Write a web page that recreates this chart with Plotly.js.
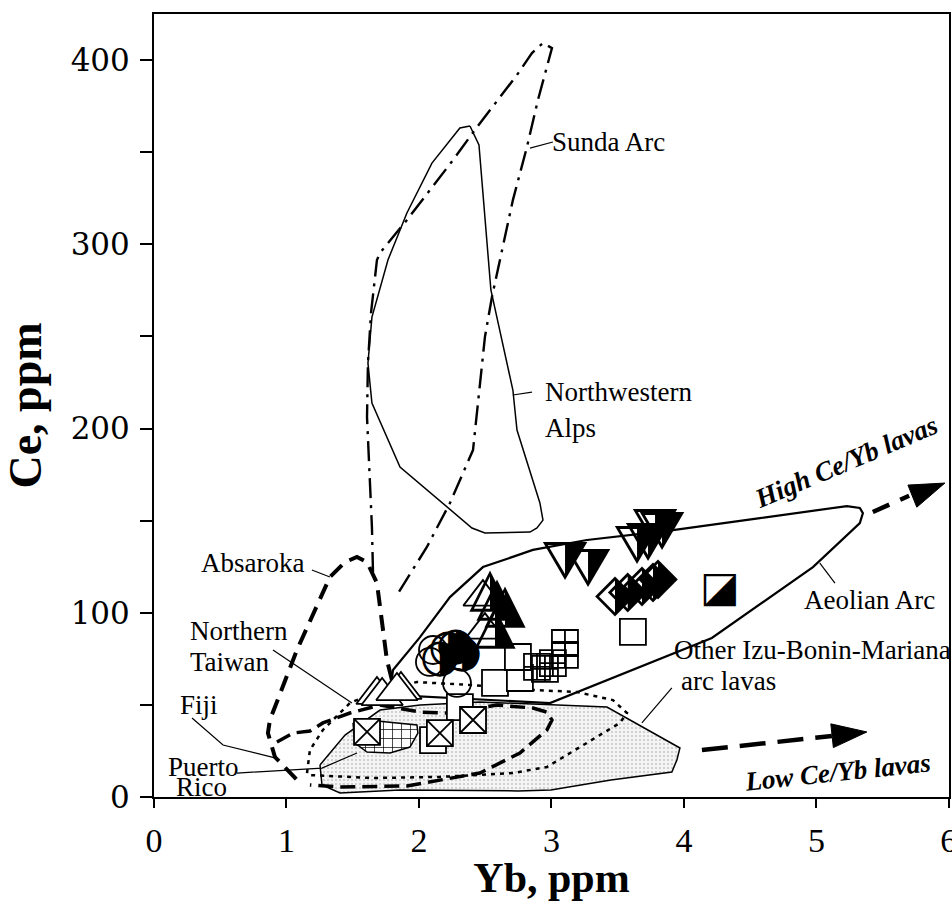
<!DOCTYPE html>
<html>
<head>
<meta charset="utf-8">
<script src="https://cdn.plot.ly/plotly-3.0.1.min.js"></script>
<style>
  html, body { margin: 0; padding: 0; background: #fff; }
  #chart { width: 952px; height: 901px; }
</style>
</head>
<body>
<div id="chart"></div>
<script>
// ---- Field outlines (Yb ppm, Ce ppm) ----
const alpsX = [2.385, 2.453, 2.543, 2.709, 2.740, 2.913, 2.936, 2.891, 2.838, 2.498, 2.400, 1.857, 1.645, 1.615, 1.645, 1.766, 1.909, 2.098, 2.309, 2.385];
const alpsY = [364.2, 353.9, 275.2, 220.9, 199.2, 159.6, 150.3, 146.0, 143.8, 143.3, 146.0, 179.1, 213.8, 235.5, 260.5, 291.5, 317.0, 344.1, 363.1, 364.2];

const sundaX = [1.653, 1.645, 1.608, 1.615, 1.638, 1.683, 1.706, 1.909, 2.257, 2.438, 2.740, 2.853, 2.936, 3.004, 2.898, 2.815, 2.709, 2.611, 2.551, 2.498, 2.460, 2.408, 2.234, 2.060, 1.834];
const sundaY = [122.1, 146.5, 206.2, 235.5, 262.7, 291.5, 295.3, 313.2, 345.7, 363.6, 391.9, 403.8, 409.2, 406.5, 378.3, 352.8, 324.0, 291.5, 271.4, 249.7, 224.7, 188.3, 159.6, 135.7, 109.6];

const aeolianX = [1.781, 1.804, 2.008, 2.234, 2.483, 2.860, 3.268, 3.917, 4.574, 5.230, 5.328, 5.351, 5.328, 4.974, 4.211, 2.989, 1.781];
const aeolianY = [55.4, 68.9, 86.8, 108.5, 124.8, 134.1, 139.5, 144.9, 151.4, 157.9, 156.9, 154.1, 148.7, 124.8, 86.3, 51.0, 55.4];

const ibmX = [1.253, 1.442, 1.706, 2.008, 2.460, 3.419, 3.970, 3.947, 3.909, 3.449, 2.996, 2.747, 1.857, 1.404, 1.268, 1.253];
const ibmY = [17.4, 33.6, 47.2, 49.9, 51.6, 48.8, 26.6, 20.1, 13.6, 9.2, 3.8, 3.3, 3.8, 2.2, 6.5, 17.4];

const absarokaX = [1.796, 1.758, 1.683, 1.608, 1.532, 1.442, 1.328, 1.079, 0.875, 0.860, 0.913, 1.102];
const absarokaY = [63.5, 74.4, 116.1, 127.5, 130.3, 127.5, 119.4, 79.8, 41.8, 34.7, 21.7, 7.6];

const fijiX = [0.928, 1.049, 1.177, 1.275, 1.479, 1.706, 2.008, 2.211, 2.589, 2.860, 2.966, 3.004, 2.966, 2.762, 2.460, 2.030, 1.909, 1.404, 1.177];
const fijiY = [29.9, 34.7, 35.8, 40.2, 45.6, 49.9, 46.1, 45.6, 49.9, 48.3, 46.1, 41.8, 36.4, 23.9, 13.0, 7.6, 6.0, 5.4, 6.5];

const dottedX = [1.155, 1.177, 1.275, 1.479, 1.706, 1.985, 2.385, 2.860, 3.192, 3.464, 3.570, 3.517, 3.215, 2.966, 2.709, 2.158, 1.653, 1.177, 1.155];
const dottedY = [13.0, 25.5, 36.4, 51.0, 58.1, 62.4, 60.8, 58.1, 57.0, 52.6, 45.6, 40.2, 27.1, 16.3, 13.0, 10.9, 10.3, 11.9, 13.0];

const prBlobX = [1.502, 1.517, 1.608, 1.781, 1.932, 1.992, 1.985, 1.781, 1.608, 1.502];
const prBlobY = [40.2, 29.3, 24.4, 23.9, 27.1, 34.7, 39.1, 40.7, 41.8, 40.2];

// ---- Label leader lines ----
const leaderX = [1.192, 1.328, null, 0.898, 1.494, null, 0.287, 0.521, 0.913, null, 0.626, 1.268, 1.532, null, 3.011, 2.838, null, 2.853, 2.709, null, 5.140, 5.026, null, 3.909, 3.683];
const leaderY = [123.2, 119.4, null, 79.8, 51.0, null, 42.9, 28.2, 21.2, null, 13.0, 15.7, 23.9, null, 355.5, 352.2, null, 219.8, 218.2, null, 116.1, 127.0, null, 59.2, 40.2];

// ---- Trend arrows ----
const highShaftX = [5.426, 5.700];
const highShaftY = [154.7, 163.5];
const highHeadX = [5.970, 5.691, 5.758, 5.970];
const highHeadY = [170.4, 169.3, 157.3, 170.4];
const lowShaftX = [4.136, 5.117];
const lowShaftY = [25.5, 33.1];
const lowHeadX = [5.381, 5.109, 5.128, 5.381];
const lowHeadY = [35.3, 39.7, 26.8, 35.3];

// ---- Samples ----
const taiwanTriX = [1.683, 1.722, 1.864, 1.834];
const taiwanTriY = [55.4, 54.8, 58.1, 57.5];
const openTriX = [2.483, 2.498];
const openTriY = [108.5, 90.6];
const halfTriX = [2.536, 2.589, 2.649, 2.574];
const halfTriY = [111.3, 106.9, 103.1, 91.7];
const openCircX = [2.083, 2.106, 2.287];
const openCircY = [73.3, 79.8, 61.9];
const halfCircX = [2.158, 2.219, 2.279, 2.325];
const halfCircY = [74.4, 79.8, 80.9, 77.1];
const openSqX = [2.574, 2.762, 2.747, 3.615, 2.309, 2.106];
const openSqY = [61.9, 64.6, 76.0, 89.6, 48.8, 30.9];
const gridSqX = [3.102, 3.102, 3.011, 2.951, 2.891];
const gridSqY = [83.6, 77.1, 72.7, 69.5, 70.6];
const crossSqX = [1.608, 2.158, 2.408];
const crossSqY = [35.3, 34.7, 41.8];
const halfSqX = [4.272];
const halfSqY = [112.3];
const downTriX = [3.102, 3.275, 3.645, 3.728, 3.781, 3.834];
const downTriY = [125.9, 122.1, 134.1, 135.7, 143.3, 142.2];
const diamondX = [3.479, 3.577, 3.683, 3.766, 3.804];
const diamondY = [108.5, 110.7, 114.0, 116.1, 117.8];

const xTicks = [0, 1, 2, 3, 4, 5, 6];
const yTickVals = [0, 50, 100, 150, 200, 250, 300, 350, 400];
const yTickText = ['0', '', '100', '', '200', '', '300', '', '400'];

function line(x, y, width, dash, extra) {
  return Object.assign({ type: 'scatter', mode: 'lines', x: x, y: y, hoverinfo: 'skip',
    line: { color: 'black', width: width, dash: dash } }, extra || {});
}
function pts(x, y, symbol, size, fill, lw) {
  return { type: 'scatter', mode: 'markers', x: x, y: y, hoverinfo: 'skip', cliponaxis: false,
    marker: { symbol: symbol, size: size, color: fill, line: { color: 'black', width: lw } } };
}
function glyphs(x, y, ch, size) {
  return { type: 'scatter', mode: 'text', x: x, y: y, text: x.map(function () { return ch; }),
    textposition: 'middle center', hoverinfo: 'skip', cliponaxis: false,
    textfont: { family: 'DejaVu Sans', size: size, color: 'black' } };
}

const traces = [
  line(ibmX, ibmY, 1.5, 'solid', { fill: 'toself', fillcolor: '#f2f2f2',
    fillpattern: { shape: '.', size: 4, solidity: 0.2, fgcolor: '#c4c4c4', bgcolor: '#f5f5f5' } }),
  line(alpsX, alpsY, 1.5, 'solid'),
  line(sundaX, sundaY, 2.4, '20px,7px,3px,7px'),
  line(aeolianX, aeolianY, 2.2, 'solid'),
  line(absarokaX, absarokaY, 4, '16px,9px'),
  line(fijiX, fijiY, 3.5, '15px,7px'),
  line(dottedX, dottedY, 2.5, '4px,5px'),
  line(prBlobX, prBlobY, 1.5, 'solid', { fill: 'toself', fillcolor: 'white',
    fillpattern: { shape: '+', size: 9, solidity: 0.15, fgcolor: 'black', bgcolor: 'white' } }),
  line(leaderX, leaderY, 1.2, 'solid', { connectgaps: false }),
  line(highShaftX, highShaftY, 4.5, '18px,12px'),
  line(highHeadX, highHeadY, 1, 'solid', { fill: 'toself', fillcolor: 'black' }),
  line(lowShaftX, lowShaftY, 4.5, '26px,12px'),
  line(lowHeadX, lowHeadY, 1, 'solid', { fill: 'toself', fillcolor: 'black' }),

  pts(taiwanTriX, taiwanTriY, 'triangle-up', 36, 'white', 1.8),
  pts(openTriX, openTriY, 'triangle-up', 34, 'white', 1.8),
  pts(openSqX, openSqY, 'square', 26, 'white', 1.8),
  pts(gridSqX, gridSqY, 'square-cross-open', 26, 'black', 1.8),
  pts(crossSqX, crossSqY, 'square-x', 26, 'white', 1.8),
  pts(openCircX, openCircY, 'circle-open', 28, 'black', 1.8),
  glyphs(halfTriX, halfTriY, '\u25EE', 54),
  glyphs(halfCircX, halfCircY, '\u25D1', 46),
  glyphs(halfSqX, halfSqY, '\u25EA', 42),
  glyphs(downTriX, downTriY, '\u29E9', 54),
  glyphs(diamondX, diamondY, '\u2B17', 52)
];

const labelFont = { family: 'Liberation Serif', size: 27, color: 'black' };
function label(x, y, text, xanchor, extra) {
  return Object.assign({ x: x, y: y, xref: 'x', yref: 'y', text: text, showarrow: false,
    xanchor: xanchor, yanchor: 'middle', align: xanchor === 'center' ? 'center' : 'left', font: labelFont }, extra || {});
}
const trendFont = { family: 'Liberation Serif', size: 27, color: 'black', weight: 'bold', style: 'italic' };

const layout = {
  width: 952, height: 901,
  margin: { l: 154, r: 3, t: 14, b: 104 },
  paper_bgcolor: 'white', plot_bgcolor: 'white',
  showlegend: false,
  xaxis: {
    range: [0, 6.001], tickvals: xTicks, ticks: 'outside', ticklen: 9, tickwidth: 2, tickcolor: 'black',
    showline: true, linewidth: 2, linecolor: 'black', mirror: true, showgrid: false, zeroline: false,
    tickfont: { family: 'Liberation Serif', size: 34, color: 'black' }, ticklabelstandoff: 3,
    ticklabeloverflow: 'allow',
    title: { text: 'Yb, ppm', font: { family: 'Liberation Serif', size: 42, color: 'black', weight: 'bold' }, standoff: 8 }
  },
  yaxis: {
    range: [0, 425], tickvals: yTickVals, ticktext: yTickText, ticks: 'outside', ticklen: 12, tickwidth: 2, tickcolor: 'black',
    showline: true, linewidth: 2, linecolor: 'black', mirror: true, showgrid: false, zeroline: false,
    tickfont: { family: 'DejaVu Serif', size: 31, color: 'black' }, ticklabelstandoff: 4,
    title: { text: 'Ce, ppm', font: { family: 'Liberation Serif', size: 46, color: 'black', weight: 'bold' }, standoff: 16 }
  },
  annotations: [
    label(1.15, 127.0, 'Absaroka', 'right'),
    label(0.257, 90.0, 'Northern', 'left'),
    label(0.257, 73.5, 'Taiwan', 'left'),
    label(0.181, 49.9, 'Fiji', 'left'),
    label(0.375, 16.3, 'Puerto', 'center'),
    label(0.355, 5.4, 'Rico', 'center'),
    label(2.99, 355.5, 'Sunda Arc', 'left'),
    label(2.936, 219.8, 'Northwestern', 'left'),
    label(2.936, 200.5, 'Alps', 'left'),
    label(4.89, 106.9, 'Aeolian Arc', 'left'),
    label(3.909, 79.8, 'Other Izu-Bonin-Mariana', 'left'),
    label(3.96, 63.0, 'arc lavas', 'left'),
    label(5.223, 181.8, 'High Ce/Yb lavas', 'center', { textangle: -23, font: trendFont }),
    label(5.162, 13.6, 'Low Ce/Yb lavas', 'center', { textangle: -6, font: trendFont })
  ]
};

Plotly.newPlot('chart', traces, layout, { staticPlot: true, displayModeBar: false });
</script>
</body>
</html>
